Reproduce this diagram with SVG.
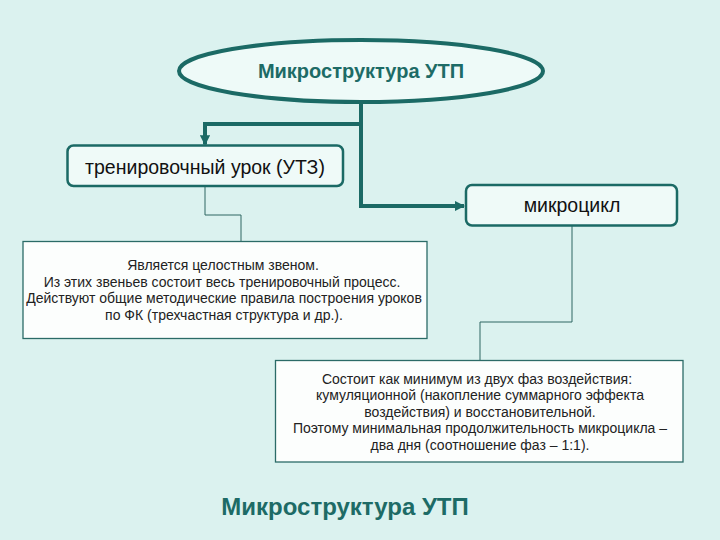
<svg xmlns="http://www.w3.org/2000/svg" width="720" height="540" viewBox="0 0 720 540">
<defs>
<style>
.bg{fill:#dbf2ef}
.oval{fill:#eefaf8;stroke:#1b6a65;stroke-width:4}
.rbox{fill:#effaf8;stroke:#1b6a65;stroke-width:2.5}
.tbox{fill:#fcfefd;stroke:#2b6b67;stroke-width:1.3}
.main{fill:none;stroke:#1b6a65;stroke-width:4}
.thin{fill:none;stroke:#2f6662;stroke-width:1}
.title{font-family:"Liberation Sans",Arial,sans-serif;font-weight:bold;fill:#1d6b66;text-anchor:middle}
.lbl{font-family:"Liberation Sans",Arial,sans-serif;fill:#111;text-anchor:middle;font-size:19.5px}
.txt{font-family:"Liberation Sans",Arial,sans-serif;fill:#222;text-anchor:middle;font-size:14px}
</style>
<marker id="ah" viewBox="0 0 10 10" refX="9" refY="5" markerWidth="2.6" markerHeight="2.6" orient="auto" markerUnits="strokeWidth">
<path d="M0,0 L10,5 L0,10 z" fill="#1b6a65"/>
</marker>
</defs>
<rect class="bg" x="0" y="0" width="720" height="540"/>

<g id="connectors">
<path class="main" d="M361,102 V206 H464" marker-end="url(#ah)"/>
<path class="main" d="M361,124 H205 V144.5" marker-end="url(#ah)"/>
<path class="thin" d="M205,186 V215 H241 V241.5"/>
<path class="thin" d="M572,225.5 V322 H480 V360.5"/>
</g>

<g id="root">
<ellipse class="oval" cx="361" cy="71" rx="182" ry="31"/>
<text class="title" x="361" y="78" font-size="20">Микроструктура УТП</text>
</g>

<g id="lesson">
<rect class="rbox" x="67.5" y="145.5" width="275.5" height="40.5" rx="6"/>
<text class="lbl" x="205" y="174">тренировочный урок (УТЗ)</text>
</g>

<g id="microcycle">
<rect class="rbox" x="466" y="185" width="211" height="40.5" rx="6"/>
<text class="lbl" x="572" y="212">микроцикл</text>
</g>

<g id="lesson-desc">
<rect class="tbox" x="23" y="241.5" width="404" height="97"/>
<text class="txt" x="223" y="270">Является целостным звеном.</text>
<text class="txt" x="222" y="286.5">Из этих звеньев состоит весь тренировочный процесс.</text>
<text class="txt" x="224" y="303">Действуют общие методические правила построения уроков</text>
<text class="txt" x="224" y="319.5">по ФК (трехчастная структура и др.).</text>
</g>

<g id="micro-desc">
<rect class="tbox" x="275.5" y="360.5" width="407.5" height="101.5"/>
<text class="txt" x="477" y="383.5">Состоит как минимум из двух фаз воздействия:</text>
<text class="txt" x="480" y="400">кумуляционной (накопление суммарного эффекта</text>
<text class="txt" x="480" y="416.5">воздействия) и восстановительной.</text>
<text class="txt" x="480" y="433">Поэтому минимальная продолжительность микроцикла –</text>
<text class="txt" x="480" y="449.5">два дня (соотношение фаз – 1:1).</text>
</g>

<g id="caption">
<text class="title" x="345" y="515" font-size="24">Микроструктура УТП</text>
</g>
</svg>
